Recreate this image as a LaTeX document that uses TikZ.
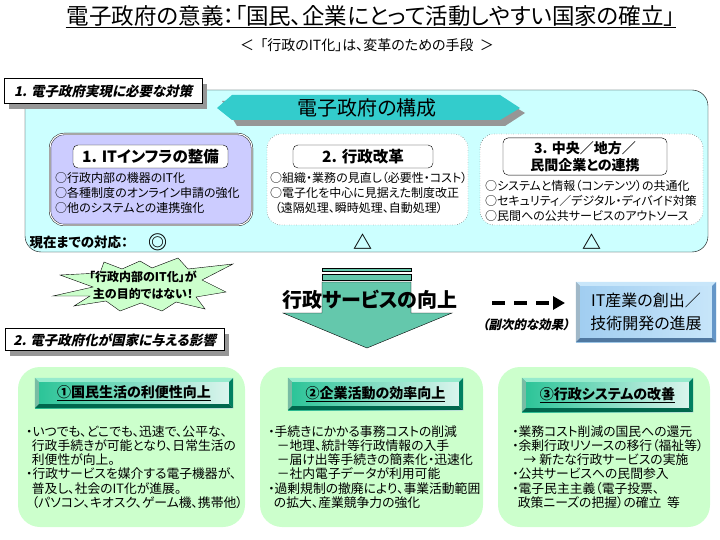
\documentclass[tikz,border=0pt]{standalone}
\usepackage{fontspec}
\setmainfont{Noto Sans CJK JP}[RawFeature=+palt]
\newfontfamily\slfont{Noto Sans CJK JP}[FakeSlant=0.2,RawFeature=+palt]
\usetikzlibrary{shadows,arrows.meta}
\definecolor{skyband}{RGB}{204,255,255}
\definecolor{bandteal}{RGB}{51,204,204}
\definecolor{lilac}{RGB}{204,204,255}
\definecolor{mint}{RGB}{204,255,204}
\definecolor{teal1}{RGB}{40,195,150}
\definecolor{tealdark}{RGB}{0,128,96}
\definecolor{teallight}{RGB}{150,235,205}
\definecolor{arrowgreen}{RGB}{100,200,172}
\definecolor{itblue}{RGB}{160,205,240}
\definecolor{itdark}{RGB}{100,150,200}
\definecolor{itlight}{RGB}{200,230,250}
\definecolor{shadowgray}{RGB}{150,150,150}
\tikzstyle{labelbox}=[draw=black,fill=white,anchor=north west,inner xsep=5pt,text depth=0pt,
  font=\slfont\bfseries\fontsize{13.5}{15}\selectfont,
  drop shadow={shadow xshift=5pt,shadow yshift=-6pt,fill=shadowgray,opacity=1}]
\tikzstyle{headbox}=[draw=black,fill=white,rounded corners=5pt,font=\bfseries\fontsize{15.5}{17}\selectfont,align=center]
\tikzstyle{body}=[anchor=west,inner sep=0pt,align=left,font=\fontsize{12}{15}\selectfont]
\tikzstyle{lowbody}=[anchor=west,inner sep=0pt,align=left,font=\fontsize{12.8}{14.2}\selectfont]
\tikzstyle{greenbox}=[fill=mint,rounded corners=22pt,minimum width=226pt,minimum height=160pt]
\tikzstyle{tealhead}=[left color=teal1,right color=white!85!teal1,inner sep=0pt,
  font=\bfseries\fontsize{14}{15}\selectfont]
\tikzstyle{statusmark}=[font=\bfseries\fontsize{19}{19}\selectfont]
\newcommand\bevel[3]{%
  \fill[#2] (#1.north west) -- (#1.north east) -- ([shift={(-4pt,-4pt)}]#1.north east) -- ([shift={(4pt,-4pt)}]#1.north west) -- cycle;
  \fill[#2!80!black] (#1.north west) -- (#1.south west) -- ([shift={(4pt,4pt)}]#1.south west) -- ([shift={(4pt,-4pt)}]#1.north west) -- cycle;
  \fill[#3] (#1.north east) -- (#1.south east) -- ([shift={(-4pt,4pt)}]#1.south east) -- ([shift={(-4pt,-4pt)}]#1.north east) -- cycle;
  \fill[#3!80!black] (#1.south west) -- (#1.south east) -- ([shift={(-4pt,4pt)}]#1.south east) -- ([shift={(4pt,4pt)}]#1.south west) -- cycle;}

\begin{document}
\begin{tikzpicture}[x=1pt,y=-1pt]
\useasboundingbox (0,0) rectangle (720,540);
% title
\node[inner sep=1pt,font=\fontsize{22.5}{22.5}\selectfont] (title) at (371,16) {電子政府の意義：「国民、企業にとって活動しやすい国家の確立」};
\draw (title.south west) -- (title.south east);
\node[font=\fontsize{14}{14}\selectfont] (sub) at (367,45) {＜\ \ 「行政のIT化」は、変革のための手段\ \ ＞};

% 1. measures
\draw[fill=skyband,rounded corners=16pt] (25,90) rectangle (708,252);
\node[labelbox,minimum width=198pt,minimum height=25pt] (lab1) at (4,78) {1. 電子政府実現に必要な対策};
\fill[shadowgray] (222,101) -- (237,101) -- (505,101) -- (525,113) -- (505,126) -- (237,126) -- cycle;
\shade[top color=bandteal,middle color=white,bottom color=bandteal] (217,108) -- (232,95) -- (500,95) -- (520,108) -- (500,120) -- (232,120) -- cycle;
\node[font=\fontsize{20}{20}\selectfont] (band) at (367,108) {電子政府の構成};

\node[draw=black,double,double distance=1.2pt,rounded corners=14pt,top color=lilac,middle color=white!60!lilac,bottom color=lilac,
  minimum width=202pt,minimum height=91pt] (infra) at (151,179.5) {};
\node[headbox,minimum width=155pt,minimum height=23pt] (infraT) at (150.5,156.5) {1. ITインフラの整備};
\node[body] (infraL) at (55,193) {○行政内部の機器のIT化\\○各種制度のオンライン申請の強化\\○他のシステムとの連携強化};

\node[draw=black,dotted,fill=white,rounded corners=14pt,minimum width=201pt,minimum height=91pt] (reform) at (367.5,179.5) {};
\node[headbox,minimum width=140pt,minimum height=23pt] (reformT) at (363,156.5) {2. 行政改革};
\node[body] (reformL) at (270,193) {○組織・業務の見直し（必要性・コスト）\\○電子化を中心に見据えた制度改正\\\ \,（遠隔処理、瞬時処理、自動処理）};

\node[draw=black,dotted,fill=white,rounded corners=14pt,minimum width=223pt,minimum height=91pt] (link) at (591.5,179.5) {};
\node[headbox,minimum width=164pt,minimum height=37pt,font=\bfseries\fontsize{14}{17}\selectfont] (linkT) at (585,156.5) {3. 中央／地方／\\民間企業との連携};
\node[body] (linkL) at (485,201) {○システムと情報（コンテンツ）の共通化\\○セキュリティ／デジタル・ディバイド対策\\○民間への公共サービスのアウトソース};

\node[anchor=west,font=\bfseries\fontsize{13.5}{13.5}\selectfont] (now) at (26,242) {現在までの対応：};
\node[statusmark] (m1) at (158,242) {◎};
\node[statusmark] (m2) at (363,242) {△};
\node[statusmark] (m3) at (592,242) {△};

% middle
\draw[fill=mint] (53,296) -- (93,287) -- (60,275) -- (100,273) -- (104,262) -- (122,269) -- (140,261) -- (152,268)
  -- (178,258) -- (188,269) -- (233,264) -- (202,280) -- (226,292) -- (196,297) -- (205,309) -- (176,302)
  -- (162,311) -- (141,303) -- (120,311) -- (106,301) -- (74,306) -- (90,296) -- cycle;
\node[align=center,font=\bfseries\fontsize{12}{17}\selectfont] (burst) at (143,285) {「行政内部のIT化」が\\主の目的ではない！};

\draw[fill=arrowgreen] (322,268) rectangle (411,271);
\draw[fill=arrowgreen] (322,274) rectangle (411,280);
\draw[fill=arrowgreen] (322,282) -- (411,282) -- (411,313) -- (452,313) -- (367,348) -- (283,313) -- (322,313) -- cycle;
\node[font=\bfseries\fontsize{20}{20}\selectfont] (svc) at (370,300) {行政サービスの向上};

\coordinate (effA) at (492,303);
\coordinate (effB) at (565,303);
\draw[line width=3.5pt,dash pattern=on 13pt off 9pt,-{Triangle[length=12pt,width=13pt]}] (effA) -- (effB);
\node[font=\slfont\bfseries\fontsize{12.5}{13}\selectfont] (side) at (526,325) {（副次的な効果）};

\node[left color=itblue,right color=itlight,minimum width=140pt,minimum height=60pt] (itbox) at (646,312) {};
\bevel{itbox}{itlight}{itdark}
\node[font=\fontsize{16}{23}\selectfont,align=center] (itboxT) at (itbox) {IT産業の創出／\\技術開発の進展};

% 2. effects
\node[labelbox,minimum width=219pt,minimum height=22pt] (lab2) at (5,328) {2. 電子政府化が国家に与える影響};

\node[greenbox,minimum width=227pt] (life) at (131.5,447) {};
\node[greenbox,minimum width=223pt] (firm) at (371.5,447) {};
\node[greenbox,minimum width=212pt] (sys) at (604,447) {};

\node[tealhead,minimum width=198pt,minimum height=30pt] (lifeT) at (134,393) {};
\node[tealhead,minimum width=175pt,minimum height=32pt] (firmT) at (375.5,394) {};
\node[tealhead,minimum width=171pt,minimum height=34pt] (sysT) at (607.5,395) {};
\foreach \n in {lifeT,firmT,sysT} {\bevel{\n}{teallight}{tealdark}}
\node[font=\bfseries\fontsize{14}{15}\selectfont] (lifeN) at (lifeT) {\underline{①国民生活の利便性向上}};
\node[font=\bfseries\fontsize{14}{15}\selectfont] (firmN) at (firmT) {\underline{②企業活動の効率向上}};
\node[font=\bfseries\fontsize{14}{15}\selectfont] (sysN) at (sysT) {\underline{③行政システムの改善}};

\node[lowbody] (lifeL) at (26,467) {・いつでも、どこでも、迅速で、公平な、\\\ \ 行政手続きが可能となり、日常生活の\\\ \ 利便性が向上。\\・行政サービスを媒介する電子機器が、\\\ \ 普及し、社会のIT化が進展。\\\ \ （パソコン、キオスク、ゲーム機、携帯他）};
\node[lowbody] (firmL) at (268,467) {・手続きにかかる事務コストの削減\\\ \ \ －地理、統計等行政情報の入手\\\ \ \ －届け出等手続きの簡素化・迅速化\\\ \ \ －社内電子データが利用可能\\・過剰規制の撤廃により、事業活動範囲\\\ \ の拡大、産業競争力の強化};
\node[lowbody] (sysL) at (512,467) {・業務コスト削減の国民への還元\\・余剰行政リソースの移行（福祉等）\\\ \ \ \ → 新たな行政サービスの実施\\・公共サービスへの民間参入\\・電子民主主義（電子投票、\\\ \ 政策ニーズの把握）の確立\ \ 等};
\end{tikzpicture}
\end{document}
